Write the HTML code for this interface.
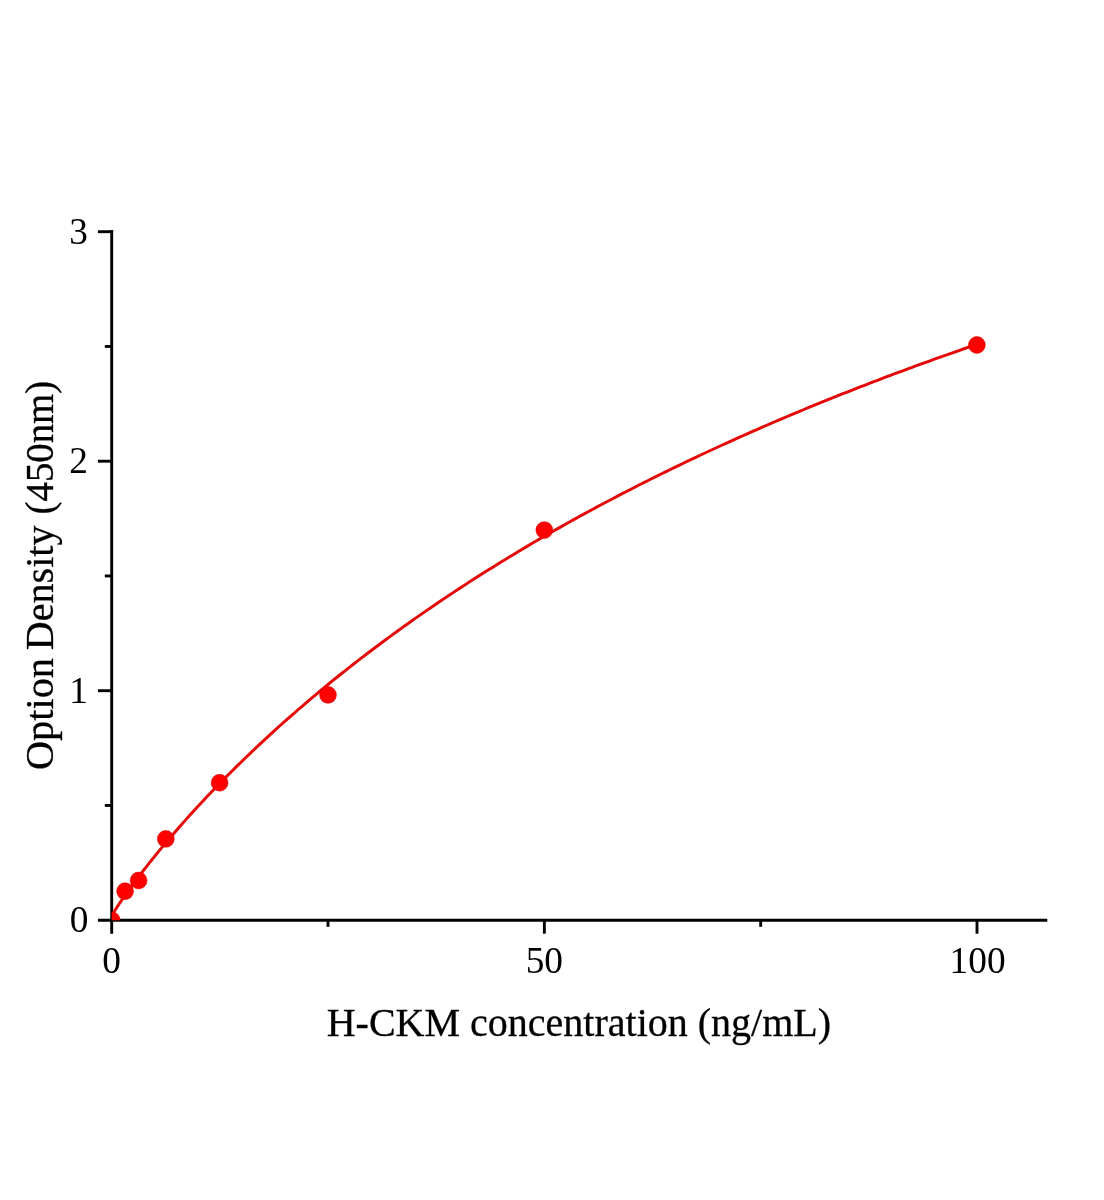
<!DOCTYPE html>
<html><head><meta charset="utf-8"><title>H-CKM standard curve</title>
<style>
html,body{margin:0;padding:0;background:#fff;}
body{width:1104px;height:1200px;overflow:hidden;font-family:"Liberation Serif",serif;}
svg{display:block;will-change:transform;}
text{font-family:"Liberation Serif",serif;font-size:37.33px;fill:#000;}
</style></head><body>
<svg width="1104" height="1200" viewBox="0 0 1104 1200">
<rect width="1104" height="1200" fill="#fff"/>
<defs><clipPath id="plot"><rect x="111.7" y="200" width="960" height="720.2"/></clipPath></defs>
<g stroke="#000" stroke-width="2.9" fill="none" stroke-linecap="butt">
<!-- axes -->
<path d="M111.7,230.3 V933.7"/>
<path d="M97.9,920.2 H1047.3"/>
<!-- y major ticks -->
<path d="M97.9,231.7 H113.1"/>
<path d="M97.9,461.2 H111.7"/>
<path d="M97.9,690.7 H111.7"/>
<!-- y minor ticks -->
<path d="M104.8,346.45 H111.7"/>
<path d="M104.8,575.95 H111.7"/>
<path d="M104.8,805.45 H111.7"/>
<!-- x major ticks -->
<path d="M544.35,920.2 V933.7"/>
<path d="M977,920.2 V933.7"/>
<!-- x minor ticks -->
<path d="M328.0,920.2 V926.8"/>
<path d="M760.7,920.2 V926.8"/>
</g>
<g clip-path="url(#plot)">
<path d="M111.70,916.06 L113.43,912.92 L115.16,910.08 L116.89,907.36 L118.62,904.71 L120.35,902.12 L122.08,899.57 L123.81,897.07 L125.54,894.60 L127.28,892.15 L129.01,889.74 L130.74,887.35 L132.47,884.99 L134.20,882.65 L135.93,880.33 L137.66,878.03 L139.39,875.75 L141.12,873.48 L142.85,871.24 L144.58,869.01 L146.31,866.79 L148.04,864.59 L149.77,862.41 L151.50,860.24 L153.23,858.09 L154.97,855.95 L159.29,850.65 L163.62,845.43 L167.94,840.29 L172.27,835.22 L176.60,830.21 L180.92,825.27 L185.25,820.39 L189.58,815.56 L193.90,810.80 L198.23,806.09 L202.56,801.43 L206.88,796.82 L211.21,792.27 L215.54,787.76 L219.86,783.30 L224.19,778.89 L228.52,774.52 L232.84,770.20 L237.17,765.92 L241.50,761.68 L245.82,757.48 L250.15,753.32 L254.47,749.20 L258.80,745.12 L263.13,741.08 L267.45,737.07 L271.78,733.10 L276.11,729.17 L280.43,725.27 L284.76,721.40 L289.09,717.57 L293.41,713.77 L297.74,710.01 L302.07,706.27 L306.39,702.57 L310.72,698.90 L315.05,695.26 L319.37,691.65 L323.70,688.06 L328.03,684.51 L332.35,680.98 L336.68,677.49 L341.00,674.02 L345.33,670.58 L349.66,667.16 L353.98,663.77 L358.31,660.41 L362.64,657.07 L366.96,653.76 L371.29,650.48 L375.62,647.21 L379.94,643.98 L384.27,640.76 L388.60,637.57 L392.92,634.41 L397.25,631.26 L401.58,628.14 L405.90,625.04 L410.23,621.97 L414.56,618.91 L418.88,615.88 L423.21,612.87 L427.53,609.88 L431.86,606.91 L436.19,603.96 L440.51,601.03 L444.84,598.12 L449.17,595.23 L453.49,592.37 L457.82,589.52 L462.15,586.69 L466.47,583.87 L470.80,581.08 L475.13,578.31 L479.45,575.55 L483.78,572.81 L488.11,570.09 L492.43,567.39 L496.76,564.71 L501.09,562.04 L505.41,559.39 L509.74,556.75 L514.06,554.14 L518.39,551.54 L522.72,548.95 L527.04,546.38 L531.37,543.83 L535.70,541.30 L540.02,538.78 L544.35,536.27 L548.68,533.78 L553.00,531.31 L557.33,528.85 L561.66,526.41 L565.98,523.98 L570.31,521.56 L574.64,519.16 L578.96,516.78 L583.29,514.41 L587.62,512.05 L591.94,509.70 L596.27,507.37 L600.59,505.06 L604.92,502.76 L609.25,500.47 L613.57,498.19 L617.90,495.93 L622.23,493.68 L626.55,491.44 L630.88,489.22 L635.21,487.01 L639.53,484.81 L643.86,482.62 L648.19,480.45 L652.51,478.28 L656.84,476.13 L661.17,473.99 L665.49,471.87 L669.82,469.75 L674.15,467.65 L678.47,465.56 L682.80,463.48 L687.12,461.41 L691.45,459.35 L695.78,457.31 L700.10,455.27 L704.43,453.25 L708.76,451.23 L713.08,449.23 L717.41,447.24 L721.74,445.26 L726.06,443.29 L730.39,441.33 L734.72,439.38 L739.04,437.44 L743.37,435.51 L747.70,433.59 L752.02,431.68 L756.35,429.78 L760.68,427.88 L765.00,426.00 L769.33,424.13 L773.65,422.27 L777.98,420.42 L782.31,418.58 L786.63,416.74 L790.96,414.92 L795.29,413.10 L799.61,411.30 L803.94,409.50 L808.27,407.71 L812.59,405.94 L816.92,404.17 L821.25,402.40 L825.57,400.65 L829.90,398.91 L834.23,397.17 L838.55,395.44 L842.88,393.73 L847.21,392.02 L851.53,390.31 L855.86,388.62 L860.18,386.93 L864.51,385.26 L868.84,383.59 L873.16,381.92 L877.49,380.27 L881.82,378.62 L886.14,376.99 L890.47,375.36 L894.80,373.73 L899.12,372.12 L903.45,370.51 L907.78,368.91 L912.10,367.32 L916.43,365.73 L920.76,364.15 L925.08,362.58 L929.41,361.02 L933.74,359.46 L938.06,357.91 L942.39,356.37 L946.71,354.84 L951.04,353.31 L955.37,351.79 L959.69,350.27 L964.02,348.76 L968.35,347.26 L972.67,345.77 L977.00,344.28" fill="none" stroke="#e40808" stroke-width="2.95" stroke-linejoin="round"/>
<g fill="#ff0000" stroke="#d40000" stroke-width="0.5">
<circle cx="111.7" cy="920.2" r="8.45"/>
<circle cx="125.1" cy="891.2" r="8.45"/>
<circle cx="138.6" cy="880.5" r="8.45"/>
<circle cx="165.8" cy="838.9" r="8.45"/>
<circle cx="219.6" cy="782.7" r="8.45"/>
<circle cx="328" cy="694.9" r="8.45"/>
<circle cx="544.3" cy="530.1" r="8.45"/>
<circle cx="976.9" cy="345.0" r="8.45"/>
</g>
</g>
<g text-anchor="end">
<text x="87.8" y="243.7">3</text>
<text x="87.8" y="473.2">2</text>
<text x="87.8" y="702.7">1</text>
<text x="88.3" y="932.1">0</text>
</g>
<g text-anchor="middle">
<text x="111.7" y="973.0">0</text>
<text x="544.35" y="973.0">50</text>
<text x="977.6" y="973.0">100</text>
<text x="578.9" y="1036.0" style="font-size:40px;stroke:#000;stroke-width:0.3px">H-CKM concentration (ng/mL)</text>
<g transform="translate(52.6,0) rotate(-90)" text-anchor="start" style="font-size:40px;stroke:#000;stroke-width:0.3px">
<text x="-770" y="0" style="font-size:40px" textLength="112" lengthAdjust="spacingAndGlyphs">Option</text>
<text x="-650.2" y="0" style="font-size:40px" textLength="124.6" lengthAdjust="spacingAndGlyphs">Density</text>
<text x="-514.4" y="0" style="font-size:40px" textLength="133.6" lengthAdjust="spacingAndGlyphs">(450nm)</text>
</g>
</g>
</svg>
</body></html>
